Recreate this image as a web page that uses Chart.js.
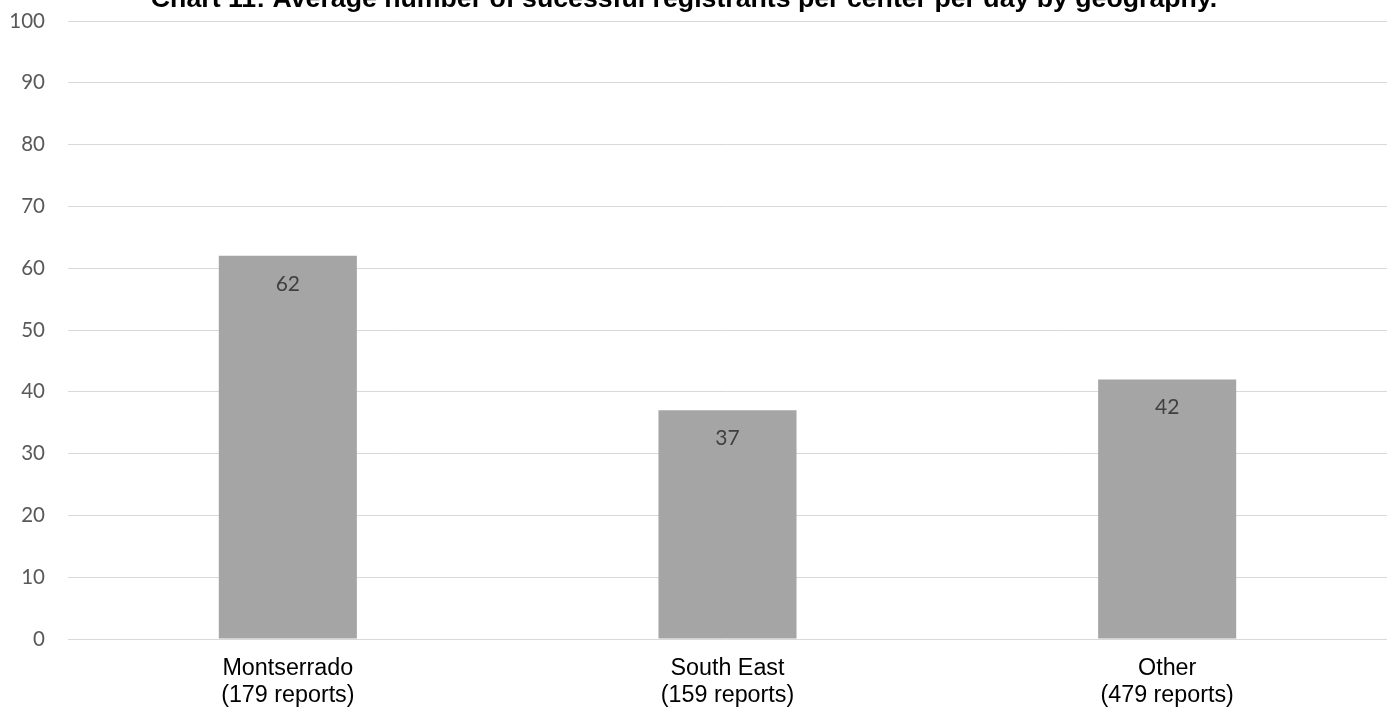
<!DOCTYPE html>
<html>
<head>
<meta charset="utf-8">
<script src="https://cdn.jsdelivr.net/npm/chart.js@4/dist/chart.umd.min.js"></script>
<style>
  html, body { margin: 0; padding: 0; background: #fff; }
  #wrap { width: 1387px; height: 708px; position: relative; }
</style>
</head>
<body>
<div id="wrap"><canvas id="myChart"></canvas></div>
<script>
const regions = [['Montserrado', '(179 reports)'], ['South East', '(159 reports)'], ['Other', '(479 reports)']];
const registrants = [62, 37, 42];
const yTicks = [0, 10, 20, 30, 40, 50, 60, 70, 80, 90, 100];
const chartTitle = 'Chart 11: Average number of sucessful registrants per center per day by geography.';

// title sits partly above the canvas edge, so draw it by hand
const topTitle = {
    id: 'topTitle',
    afterDraw(chart){
        const {ctx} = chart;
        ctx.save();
        ctx.font = 'bold 26.7px "Liberation Sans", Arial, sans-serif';
        ctx.fillStyle = '#000';
        ctx.textAlign = 'center';
        ctx.textBaseline = 'alphabetic';
        ctx.fillText(chartTitle, 684, 7);
        ctx.restore();
    }
}

// value inside the top of each bar
const barValues = {
    id: 'barValues',
    afterDatasetsDraw(chart){
        const {ctx} = chart;
        const meta = chart.getDatasetMeta(0);
        ctx.save();
        ctx.font = '21px Lato, "Open Sans", sans-serif';
        ctx.fillStyle = '#404040';
        ctx.textAlign = 'center';
        ctx.textBaseline = 'middle';
        meta.data.forEach((bar, i) => {
            ctx.fillText(registrants[i], bar.x, bar.y + 28);
        });
        ctx.restore();
    }
}

new Chart(document.getElementById('myChart'), {
    type: 'bar',
    data: {
        labels: regions,
        datasets: [{
            data: registrants,
            backgroundColor: '#a5a5a5',
            borderWidth: 0,
            barPercentage: 0.314,
            categoryPercentage: 1
        }]
    },
    options: {
        responsive: true,
        maintainAspectRatio: false,
        animation: false,
        layout: { padding: { top: 21, right: 0, left: 0, bottom: 0 } },
        plugins: {
            legend: { display: false },
            title: { display: false },
            tooltip: { enabled: false }
        },
        scales: {
            x: {
                grid: { display: false },
                border: { display: false },
                ticks: {
                    color: '#000',
                    font: { family: '"Liberation Sans", Arial, sans-serif', size: 23.3, lineHeight: 1.12 },
                    padding: 9,
                    maxRotation: 0
                },
                afterFit(scale){
                    scale.height = 69;
                    scale.paddingLeft = 0;
                    scale.paddingRight = 0;
                }
            },
            y: {
                min: 0,
                max: 100,
                afterBuildTicks(scale){
                    scale.ticks = yTicks.map(v => ({value: v}));
                },
                grid: { color: '#d9d9d9', lineWidth: 1, drawTicks: false },
                border: { display: false },
                ticks: {
                    color: '#595959',
                    font: { family: 'Lato, "Open Sans", sans-serif', size: 20.5 },
                    padding: 23
                },
                afterFit(scale){
                    scale.width = 68;
                    scale.paddingTop = 0;
                    scale.paddingBottom = 0;
                }
            }
        }
    },
    plugins: [topTitle, barValues]
});
</script>
</body>
</html>
